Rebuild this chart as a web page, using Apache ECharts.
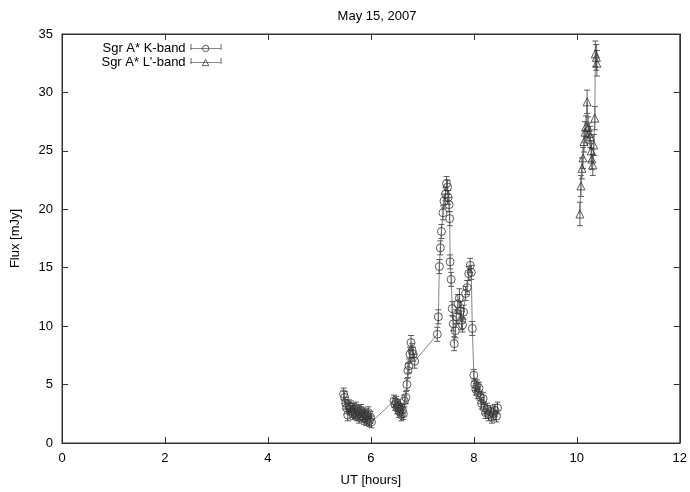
<!DOCTYPE html>
<html>
<head>
<meta charset="utf-8">
<script src="https://cdn.jsdelivr.net/npm/echarts@6/dist/echarts.min.js"></script>
<style>html,body{margin:0;padding:0;background:#fff}#c{width:690px;height:492px}</style>
</head>
<body>
<div id="c"></div>
<script>
// ---- data ----
const kTime = [5.47,5.49,5.51,5.53,5.55,5.57,5.59,5.61,5.63,5.65,5.67,5.69,5.71,5.73,5.75,5.77,5.79,5.81,5.83,5.85,5.87,5.89,5.91,5.93,5.95,5.97,5.99,6.01,
  6.45,6.47,6.49,6.51,6.53,6.55,6.57,6.59,6.61,6.63,6.65,6.68,6.70,6.72,6.74,6.76,6.78,6.80,6.82,6.85,
  7.29,7.31,7.33,7.35,7.37,7.40,7.42,7.45,7.47,7.49,7.50,7.52,7.53,7.54,7.56,7.58,7.60,7.62,7.64,7.66,7.69,7.72,7.74,7.76,7.78,7.80,7.84,7.87,7.90,7.93,7.95,7.97,
  8.00,8.02,8.04,8.06,8.08,8.10,8.13,8.15,8.18,8.20,8.23,8.26,8.29,8.32,8.35,8.38,8.41,8.44,8.46];
const kFlux = [4.2,3.9,3.4,3.0,2.4,3.2,2.9,3.1,2.7,2.5,2.9,2.6,3.0,2.4,2.7,2.2,2.5,2.8,2.3,2.5,2.1,2.4,2.0,2.3,2.6,1.9,2.2,1.8,
  3.6,3.3,3.5,3.0,3.2,2.7,2.9,2.4,2.8,2.5,3.6,3.9,5.0,6.2,6.6,7.6,8.6,7.9,7.6,7.0,
  9.3,10.8,15.1,16.7,18.1,19.7,20.7,21.3,22.2,21.9,21.0,20.4,19.2,15.5,14.0,11.5,10.2,8.5,9.6,10.8,11.9,12.4,11.3,10.5,10.1,11.2,12.8,13.3,14.5,15.2,14.6,9.8,
  5.8,5.0,4.6,4.9,4.3,4.7,3.9,3.4,3.8,3.0,2.6,2.9,2.4,2.7,2.2,2.5,2.8,2.3,3.0];
const kErr = [0.5,0.5,0.5,0.5,0.5,0.5,0.5,0.5,0.5,0.5,0.5,0.5,0.5,0.5,0.5,0.5,0.5,0.5,0.5,0.5,0.5,0.5,0.5,0.5,0.5,0.5,0.5,0.5,
  0.5,0.5,0.5,0.5,0.5,0.5,0.5,0.5,0.5,0.5,0.5,0.5,0.5,0.6,0.6,0.6,0.6,0.6,0.6,0.6,
  0.6,0.6,0.6,0.6,0.6,0.6,0.6,0.6,0.6,0.6,0.6,0.6,0.6,0.6,0.6,0.6,0.6,0.6,0.6,0.6,0.8,0.8,0.8,0.8,0.6,0.6,0.6,0.6,0.6,0.6,0.6,0.6,
  0.5,0.5,0.5,0.5,0.5,0.5,0.5,0.5,0.5,0.5,0.5,0.5,0.5,0.5,0.5,0.5,0.5,0.5,0.5];
const lTime = [10.06,10.08,10.10,10.12,10.14,10.16,10.18,10.20,10.22,10.24,10.26,10.28,10.29,10.31,10.33,10.35,10.36,10.38,10.39];
const lFlux = [19.6,22.0,23.5,24.4,25.8,26.6,27.1,29.2,27.0,26.5,26.2,25.0,24.3,23.8,25.5,27.8,33.3,33.0,32.5];
const lErr  = [1.0,0.9,0.9,0.9,0.9,0.9,0.9,1.0,0.9,0.9,0.9,0.9,0.9,0.9,0.9,1.0,1.1,1.1,1.1];
const xTicks = [0,2,4,6,8,10,12];
const yTicks = [0,5,10,15,20,25,30,35];
const titleText = 'May 15, 2007';
const kName = 'Sgr A* K-band';
const lName = "Sgr A* L'-band";

const FONT = 'Liberation Sans, Arial, sans-serif';
const zip = (a,b) => a.map((v,i)=>[v,b[i]]);
const zip3 = (a,b,c) => a.map((v,i)=>[v,b[i],c[i]]);

function errItem(params, api){
  const x = api.value(0), y = api.value(1), e = api.value(2);
  const top = api.coord([x, y+e]);
  const bot = api.coord([x, y-e]);
  const cap = 3;
  const st = {stroke:'#333', lineWidth:0.8};
  return {type:'group', children:[
    {type:'line', shape:{x1:top[0],y1:top[1],x2:bot[0],y2:bot[1]}, style:st},
    {type:'line', shape:{x1:top[0]-cap,y1:top[1],x2:top[0]+cap,y2:top[1]}, style:st},
    {type:'line', shape:{x1:bot[0]-cap,y1:bot[1],x2:bot[0]+cap,y2:bot[1]}, style:st}
  ]};
}

function axisStyle(){
  return {
    axisLine:{show:true,onZero:false,lineStyle:{color:'#333',width:1}},
    axisTick:{show:true,inside:true,length:6,lineStyle:{color:'#333',width:1}},
    splitLine:{show:false}
  };
}

// legend key error-bar caps (decoration of the legend key only)
function legendCaps(yc){
  const st = {stroke:'#444', lineWidth:0.8};
  return [
    {type:'line', shape:{x1:191,y1:yc-3,x2:191,y2:yc+3}, style:st, z:10},
    {type:'line', shape:{x1:221,y1:yc-3,x2:221,y2:yc+3}, style:st, z:10}
  ];
}

const legendCommon = {right:464, align:'right', itemWidth:30, itemHeight:8, itemGap:4, selectedMode:false,
  textStyle:{fontFamily:FONT,fontSize:13,color:'#000'},
  lineStyle:{width:0.8,color:'#666'},
  itemStyle:{color:'rgba(0,0,0,0)',borderColor:'#333',borderWidth:0.8}};

const chart = echarts.init(document.getElementById('c'), null, {renderer:'canvas'});
chart.setOption({
  animation:false,
  backgroundColor:'#fff',
  textStyle:{fontFamily:FONT},
  title:{text:titleText, left:372, top:5, textAlign:'center',
    textStyle:{fontFamily:FONT,fontSize:13,fontWeight:'normal',color:'#000'}},
  grid:{left:62,right:7,top:34,bottom:47,show:true,borderColor:'#333',borderWidth:1,backgroundColor:'rgba(0,0,0,0)'},
  legend:[
    Object.assign({data:[kName], top:37}, legendCommon),
    Object.assign({data:[lName], top:51}, legendCommon)
  ],
  graphic: legendCaps(47).concat(legendCaps(61)),
  xAxis:[
    Object.assign({type:'value', min:0, max:12, interval:2, position:'bottom',
      name:'UT [hours]', nameLocation:'middle', nameGap:31,
      nameTextStyle:{fontFamily:FONT,fontSize:13,color:'#000'},
      axisLabel:{fontFamily:FONT,fontSize:13,color:'#000',margin:9,
        formatter:v=>xTicks.includes(v)?String(v):''}}, axisStyle()),
    Object.assign({type:'value', min:0, max:12, interval:2, position:'top',
      axisLabel:{show:false}}, axisStyle())
  ],
  yAxis:[
    Object.assign({type:'value', min:0, max:35, interval:5, position:'left',
      name:'Flux [mJy]', nameLocation:'middle', nameGap:40, nameRotate:90,
      nameTextStyle:{fontFamily:FONT,fontSize:13,color:'#000'},
      axisLabel:{fontFamily:FONT,fontSize:13,color:'#000',margin:9,
        formatter:v=>yTicks.includes(v)?String(v):''}}, axisStyle()),
    Object.assign({type:'value', min:0, max:35, interval:5, position:'right',
      axisLabel:{show:false}}, axisStyle())
  ],
  series:[
    {name:kName, type:'line', data:zip(kTime,kFlux), symbol:'circle', symbolSize:8,
      lineStyle:{color:'#666',width:0.8}, itemStyle:{color:'rgba(0,0,0,0)',borderColor:'#333',borderWidth:0.8}, z:3},
    {name:lName, type:'line', data:zip(lTime,lFlux), symbol:'triangle', symbolSize:8,
      lineStyle:{color:'#666',width:0.8}, itemStyle:{color:'rgba(0,0,0,0)',borderColor:'#333',borderWidth:0.8}, z:3},
    {name:kName+' err', type:'custom', data:zip3(kTime,kFlux,kErr), renderItem:errItem, z:2},
    {name:lName+' err', type:'custom', data:zip3(lTime,lFlux,lErr), renderItem:errItem, z:2},
    {name:'mirror', type:'line', xAxisIndex:1, yAxisIndex:1, data:[[0,0]], symbol:'none', lineStyle:{opacity:0}, silent:true}
  ]
});
</script>
</body>
</html>
